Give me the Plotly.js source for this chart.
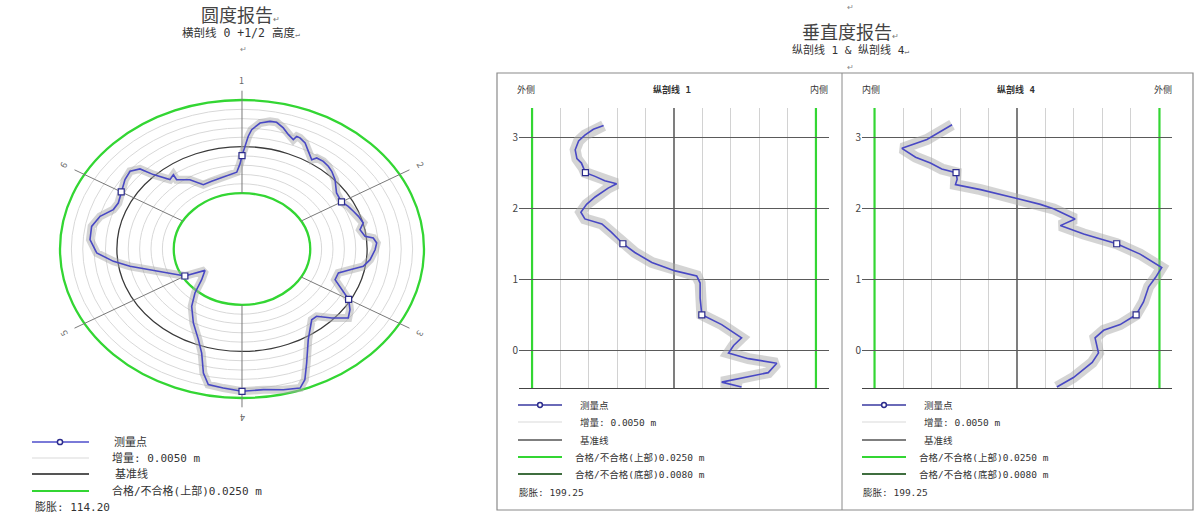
<!DOCTYPE html>
<html><head><meta charset="utf-8">
<script src="https://cdn.plot.ly/plotly-3.0.1.min.js"></script>
<style>html,body{margin:0;padding:0;background:#fff}#chart{width:1200px;height:520px}</style>
</head><body><div id="chart"></div>
<script>
// ================= DATA =================
// Roundness report (横剖线 0 +1/2 高度): angle (deg, clockwise from top) and radial deviation (m)
const roundSpokeLabels = ['1','2','3','4','5','6'];
const roundSpokeAngles = [0,60,120,180,240,300];
const roundAngles = [0,1.4,2.6,3.8,6.7,10.2,12.6,15.6,18.4,21.0,21.7,23.1,26.0,29.1,32.6,33.9,37.2,40.5,43.4,47.7,54.1,60,63.9,67.5,71.1,75.3,78.7,82.8,84.2,86.9,90.4,95.8,99.9,103.2,106.9,111.9,116.5,120,124.5,128.4,133.2,137.8,141.1,149.1,155.1,158.5,161.1,166.5,172.9,180,186.3,191.5,194.3,197.6,201.5,208.3,215.7,221.2,227.1,234.8,240,252.3,259.3,263.3,268.1,274.3,280.4,285.7,290.5,294.4,300,305.9,310.3,313.8,315.7,318.4,319.6,322.9,322.3,328.4,333.8,339.8,345.8,352.5,356.8,358.9];
const roundDev = [-0.0049,0.0010,0.0056,0.0092,0.0131,0.0146,0.0147,0.0125,0.0097,0.0079,0.0101,0.0099,0.0083,0.0050,0.0019,0.0039,0.0041,0.0034,0.0024,0.0003,-0.0037,-0.0045,-0.0030,-0.0020,-0.0009,0.0001,-0.0021,-0.0005,0.0030,0.0043,0.0035,0.0016,-0.0009,-0.0062,-0.0107,-0.0109,-0.0061,-0.0009,0.0026,0.0046,-0.0009,-0.0062,-0.0062,0.0017,0.0125,0.0204,0.0239,0.0227,0.0211,0.0214,0.0201,0.0193,0.0137,0.0036,-0.0027,-0.0099,-0.0171,-0.0236,-0.0308,-0.0351,-0.0260,-0.0156,-0.0049,0.0019,0.0089,0.0120,0.0122,0.0098,0.0054,0.0047,0.0063,0.0085,0.0095,0.0071,0.0008,-0.0040,-0.0061,-0.0050,-0.0080,-0.0113,-0.0165,-0.0163,-0.0157,-0.0147,-0.0137,-0.0093];
const roundMarkAngles = [0,60,120,180,240,300];
const roundMarkDev = [-0.0049,-0.0045,-0.0009,0.0214,-0.0260,0.0063];
const roundIncrement = 0.005;
const roundTolUpper = 0.025;
const roundExpansion = '114.20';

// Verticality report: 纵剖线 1 (offset m, height m)
const v1Offset = [-0.0124,-0.0142,-0.0157,-0.0168,-0.0174,-0.0171,-0.0163,-0.0160,-0.0156,-0.0139,-0.0122,-0.0101,-0.0116,-0.0139,-0.0154,-0.0164,-0.0157,-0.0127,-0.0110,-0.0090,-0.0069,-0.0039,0.0002,0.0040,0.0046,0.0046,0.0049,0.0084,0.0119,0.0105,0.0096,0.0131,0.0181,0.0166,0.0084,0.0119];
const v1Height = [3.162,3.111,3.029,2.946,2.822,2.697,2.635,2.573,2.5,2.448,2.386,2.344,2.282,2.158,2.054,1.943,1.849,1.778,1.660,1.5,1.377,1.236,1.118,1.047,0.947,0.734,0.5,0.362,0.176,0.069,-0.037,-0.117,-0.181,-0.314,-0.447,-0.516];
const v1MarkOffset = [-0.0156,-0.0090,0.0049];
const v1MarkHeight = [2.5,1.5,0.5];
// 纵剖线 4
const v2Offset = [-0.0114,-0.0135,-0.0158,-0.0202,-0.0178,-0.0152,-0.0132,-0.0107,-0.0105,-0.0108,-0.0064,0.0000,0.0041,0.0064,0.0102,0.0076,0.0117,0.0175,0.0216,0.0254,0.0243,0.0231,0.0222,0.0209,0.0181,0.0152,0.0137,0.0143,0.0132,0.0099,0.0070];
const v2Height = [3.174,3.071,2.967,2.842,2.718,2.635,2.552,2.5,2.407,2.332,2.261,2.137,2.054,1.991,1.849,1.755,1.637,1.5,1.354,1.165,1.024,0.894,0.681,0.5,0.362,0.282,0.176,-0.037,-0.170,-0.383,-0.516];
const v2MarkOffset = [-0.0107,0.0175,0.0209];
const v2MarkHeight = [2.5,1.5,0.5];
const vTolUpper = 0.025;
const vTolBottom = 0.0080;
const vIncrement = 0.005;
const vHeightTicks = [0,1,2,3];
const vExpansion = '199.25';

// ================= STYLE / HELPERS =================
const W = 1200, H = 520;
const px = x => x / W, py = y => 1 - y / H;
const FONT = '"Noto Sans CJK SC", "Noto Sans", sans-serif';
const MONO = '"DejaVu Sans Mono", "Noto Sans CJK SC", monospace';
const BLUE = '#4848c4', MARKLINE = '#2b2b8c', BAND = 'rgba(170,170,170,0.5)';
const GREEN = '#33d633', DKGREEN = '#3f6e3f', BASECOL = '#3a3a3a', RING = '#d8d8d8';
const R_BASE = 0.055; // plotting radius used for the design line (zero deviation)

function polarXY(angles, devs) {
  return {
    x: angles.map((a, i) => (R_BASE + devs[i]) * Math.sin(a * Math.PI / 180)),
    y: angles.map((a, i) => (R_BASE + devs[i]) * Math.cos(a * Math.PI / 180))
  };
}
const closedA = roundAngles.concat([roundAngles[0]]);
const closedD = roundDev.concat([roundDev[0]]);
const pc = polarXY(closedA, closedD);
const pm = polarXY(roundMarkAngles, roundMarkDev);

const traces = [
  {type:'scatter', mode:'lines', x:pc.x, y:pc.y, xaxis:'x', yaxis:'y', line:{color:BAND, width:8}, hoverinfo:'skip', showlegend:false},
  {type:'scatter', mode:'lines', x:pc.x, y:pc.y, xaxis:'x', yaxis:'y', line:{color:BLUE, width:1.6}, showlegend:false},
  {type:'scatter', mode:'markers', x:pm.x, y:pm.y, xaxis:'x', yaxis:'y', marker:{symbol:'square', size:6, color:'#fff', line:{color:MARKLINE, width:1.2}}, showlegend:false},

  {type:'scatter', mode:'lines', x:v1Offset, y:v1Height, xaxis:'x2', yaxis:'y2', line:{color:BAND, width:11}, hoverinfo:'skip', showlegend:false},
  {type:'scatter', mode:'lines', x:v1Offset, y:v1Height, xaxis:'x2', yaxis:'y2', line:{color:BLUE, width:1.6}, showlegend:false},
  {type:'scatter', mode:'markers', x:v1MarkOffset, y:v1MarkHeight, xaxis:'x2', yaxis:'y2', marker:{symbol:'square', size:6, color:'#fff', line:{color:MARKLINE, width:1.2}}, showlegend:false},

  {type:'scatter', mode:'lines', x:v2Offset, y:v2Height, xaxis:'x3', yaxis:'y3', line:{color:BAND, width:11}, hoverinfo:'skip', showlegend:false},
  {type:'scatter', mode:'lines', x:v2Offset, y:v2Height, xaxis:'x3', yaxis:'y3', line:{color:BLUE, width:1.6}, showlegend:false},
  {type:'scatter', mode:'markers', x:v2MarkOffset, y:v2MarkHeight, xaxis:'x3', yaxis:'y3', marker:{symbol:'square', size:6, color:'#fff', line:{color:MARKLINE, width:1.2}}, showlegend:false}
];

const shapes = [];
const annotations = [];

// ---- roundness rings ----
for (let k = -4; k <= 4; k++) {
  if (k === 0) continue;
  const r = R_BASE + k * roundIncrement;
  shapes.push({type:'circle', xref:'x', yref:'y', x0:-r, x1:r, y0:-r, y1:r, layer:'below', line:{color:RING, width:1}});
}
[{d:0, c:BASECOL, w:1.3}, {d:roundTolUpper, c:GREEN, w:2.3}, {d:-roundTolUpper, c:GREEN, w:2.3}].forEach(o => {
  const r = R_BASE + o.d;
  shapes.push({type:'circle', xref:'x', yref:'y', x0:-r, x1:r, y0:-r, y1:r, layer:'below', line:{color:o.c, width:o.w}});
});
const rIn = R_BASE - roundTolUpper, rOut = R_BASE + roundTolUpper + 0.005, rLab = R_BASE + roundTolUpper + 0.0105;
roundSpokeAngles.forEach((a, i) => {
  const s = Math.sin(a * Math.PI / 180), c = Math.cos(a * Math.PI / 180);
  shapes.push({type:'line', xref:'x', yref:'y', x0:rIn*s, y0:rIn*c, x1:rOut*s, y1:rOut*c, layer:'below', line:{color:'#7a7a7a', width:1}});
  annotations.push({xref:'x', yref:'y', x:rLab*s, y:rLab*c, text:roundSpokeLabels[i], showarrow:false, textangle:a, font:{family:FONT, size:9, color:'#666'}});
});

// ---- verticality panels: baseline and tolerance lines (x gridlines skip these values) ----
[['x2','y2'],['x3','y3']].forEach(([xa, ya]) => {
  shapes.push({type:'line', xref:xa, yref:ya + ' domain', x0:0, x1:0, y0:0, y1:1, layer:'below', line:{color:BASECOL, width:1.3}});
  [vTolUpper, -vTolUpper].forEach(t => {
    shapes.push({type:'line', xref:xa, yref:ya + ' domain', x0:t, x1:t, y0:0, y1:1, layer:'below', line:{color:GREEN, width:2.2}});
  });
});
const vGridVals = [];
for (let k = -4; k <= 4; k++) if (k !== 0) vGridVals.push(+(k * vIncrement).toFixed(4));

// ---- table frame ----
const frameL = 497, frameR = 1193, frameT = 73, frameB = 510, frameM = 842;
shapes.push({type:'rect', xref:'paper', yref:'paper', x0:px(frameL), x1:px(frameR), y0:py(frameB), y1:py(frameT), line:{color:'#8a8a8a', width:1.2}});
shapes.push({type:'line', xref:'paper', yref:'paper', x0:px(frameM), x1:px(frameM), y0:py(frameB), y1:py(frameT), line:{color:'#8a8a8a', width:1}});

// ---- text helpers ----
function txt(text, x, y, size, opts = {}) {
  annotations.push(Object.assign({xref:'paper', yref:'paper', x:px(x), y:py(y), text:text, showarrow:false,
    xanchor:'left', yanchor:'middle', font:{family:MONO, size:size, color:'#333'}}, opts));
}
const RET = '<span style="font-size:8px;color:#777">↵</span>';

// titles
txt('圆度报告' + RET, 240, 14, 18, {xanchor:'center', font:{family:FONT, size:18, color:'#444'}});
txt('横剖线 0 +1/2 高度' + RET, 241, 33, 11.5, {xanchor:'center'});
txt('↵', 243, 48, 8, {xanchor:'center', font:{family:FONT, size:8, color:'#888'}});
txt('↵', 850, 7, 8, {xanchor:'center', font:{family:FONT, size:8, color:'#888'}});
txt('垂直度报告' + RET, 850, 31, 18, {xanchor:'center', font:{family:FONT, size:18, color:'#444'}});
txt('纵剖线 1 & 纵剖线 4' + RET, 850, 50, 11, {xanchor:'center'});
txt('↵', 850, 66, 8, {xanchor:'center', font:{family:FONT, size:8, color:'#888'}});

// panel headers
txt('外侧', 515, 89, 9);
txt('<b>纵剖线 1</b>', 672, 89, 9, {xanchor:'center'});
txt('内侧', 830, 89, 9, {xanchor:'right'});
txt('内侧', 860, 89, 9);
txt('<b>纵剖线 4</b>', 1016, 89, 9, {xanchor:'center'});
txt('外侧', 1174, 89, 9, {xanchor:'right'});

// legends
function legendLine(x0, x1, y, color, width) {
  shapes.push({type:'line', xref:'paper', yref:'paper', x0:px(x0), x1:px(x1), y0:py(y), y1:py(y), line:{color:color, width:width}});
}
function legendDot(x, y, r) {
  shapes.push({type:'circle', xref:'paper', yref:'paper', xsizemode:'pixel', ysizemode:'pixel', xanchor:px(x), yanchor:py(y),
    x0:-r, x1:r, y0:-r, y1:r, fillcolor:'#fff', line:{color:MARKLINE, width:1.5}});
}
// left legend
legendLine(32, 89, 442, '#7a7ad8', 2); legendDot(60, 442, 2.6);
txt('测量点', 112, 442, 11);
legendLine(32, 89, 458, '#e6e6e6', 1.5);
txt('增量: 0.0050 m', 110, 458, 11);
legendLine(32, 89, 474, '#555', 1.8);
txt('基准线', 113, 474, 11);
legendLine(32, 89, 491, GREEN, 2.2);
txt('合格/不合格(上部)0.0250 m', 110, 491, 11);
txt('膨胀: ' + roundExpansion, 33, 507, 11);

// right legends
[0, 344].forEach(dx => {
  legendLine(518 + dx, 562 + dx, 405, '#6a6ab8', 1.8); legendDot(540 + dx, 405, 2.4);
  txt('测量点', 578 + dx, 405, 9.5);
  legendLine(518 + dx, 562 + dx, 422, '#e6e6e6', 1.5);
  txt('增量: 0.0050 m', 578 + dx, 422, 9.5);
  legendLine(518 + dx, 562 + dx, 440, '#555', 1.6);
  txt('基准线', 578 + dx, 440, 9.5);
  legendLine(518 + dx, 562 + dx, 457, GREEN, 2);
  txt('合格/不合格(上部)0.0250 m', 573 + dx, 457, 9.5);
  legendLine(518 + dx, 562 + dx, 474, DKGREEN, 2);
  txt('合格/不合格(底部)0.0080 m', 573 + dx, 474, 9.5);
  txt('膨胀: ' + vExpansion, 517 + dx, 492, 9.5);
});

// ================= LAYOUT =================
const vX = (l, r, rng) => ({domain:[px(l), px(r)], range:[-rng, rng], tickvals:vGridVals, showgrid:true,
  gridcolor:'#d2d2d2', gridwidth:1, zeroline:false, showticklabels:false, ticks:'', showline:true, linecolor:'#444', linewidth:1.2, fixedrange:true});
const vY = (anchor) => ({domain:[py(388), py(108)], range:[-0.53, 3.41], tickvals:vHeightTicks, ticktext:vHeightTicks.map(String),
  showgrid:true, gridcolor:'#5a5a5a', gridwidth:1, zeroline:false, showline:false, ticks:'', anchor:anchor,
  tickfont:{family:FONT, size:10, color:'#444'}, fixedrange:true});

const layout = {
  width:W, height:H, margin:{l:0, r:0, t:0, b:0}, paper_bgcolor:'#fff', plot_bgcolor:'rgba(0,0,0,0)',
  showlegend:false, font:{family:FONT},
  xaxis:{domain:[0.01208, 0.39125], range:[-0.1, 0.1], visible:false, fixedrange:true, anchor:'y'},
  yaxis:{domain:[0.16298, 0.87933], range:[-0.1, 0.1], visible:false, fixedrange:true, anchor:'x'},
  xaxis2:Object.assign(vX(519, 829, 0.0273), {anchor:'y2'}),
  yaxis2:vY('x2'),
  xaxis3:Object.assign(vX(862, 1172, 0.0272), {anchor:'y3'}),
  yaxis3:vY('x3'),
  shapes:shapes, annotations:annotations
};

Plotly.newPlot('chart', traces, layout, {staticPlot:true, displayModeBar:false});
</script>
</body></html>
